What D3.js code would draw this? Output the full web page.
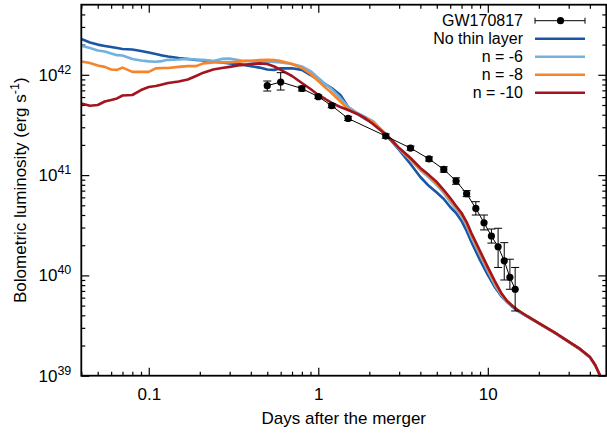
<!DOCTYPE html>
<html>
<head>
<meta charset="utf-8">
<script src="https://cdn.jsdelivr.net/npm/d3@7"></script>
<style>
body { margin: 0; background: #fff; }
svg { display: block; font-family: "Liberation Sans", Arial, sans-serif; }
</style>
</head>
<body>
<div id="graph"></div>
<script>
// model time grid (days after merger)
var days = [0.04, 0.045, 0.05, 0.055, 0.06, 0.065, 0.07, 0.08, 0.09, 0.1,
  0.11, 0.12, 0.13, 0.15, 0.17, 0.19, 0.21, 0.24, 0.27, 0.3,
  0.35, 0.4, 0.45, 0.5, 0.55, 0.6, 0.7, 0.8, 0.9, 1.0,
  1.1, 1.2, 1.35, 1.5, 1.7, 1.9, 2.1, 2.4, 2.7, 3.0,
  3.5, 4.0, 4.5, 5.0, 5.5, 6.0, 6.5, 7.0, 7.5, 8.0,
  9, 10, 11, 12, 13, 14, 15,
  17, 20, 25, 30, 35, 40, 43, 46];

// bolometric luminosity, erg/s
var lumNoLayer = [2.28e42, 2.10e42, 2.00e42, 1.94e42, 1.89e42, 1.85e42, 1.81e42, 1.79e42, 1.73e42, 1.67e42,
  1.61e42, 1.56e42, 1.52e42, 1.47e42, 1.44e42, 1.41e42, 1.39e42, 1.36e42, 1.33e42, 1.30e42,
  1.27e42, 1.22e42, 1.18e42, 1.13e42, 1.12e42, 1.16e42, 1.16e42, 1.12e42, 9.95e41, 8.87e41,
  8.09e41, 7.38e41, 6.29e41, 4.78e41, 4.07e41, 3.62e41, 3.31e41, 2.69e41, 2.19e41, 1.78e41,
  1.29e41, 9.57e40, 7.78e40, 6.71e40, 5.78e40, 4.81e40, 4.19e40, 3.49e40, 2.77e40, 2.15e40,
  1.42e40, 1.01e40, 7.66e39, 6.23e39, 5.43e39, 4.84e39, 4.42e39,
  3.90e39, 3.32e39, 2.65e39, 2.17e39, 1.83e39, 1.53e39, 1.27e39, 1.00e39];

var lumN6 = [1.95e42, 1.85e42, 1.75e42, 1.71e42, 1.63e42, 1.57e42, 1.56e42, 1.44e42, 1.39e42, 1.36e42,
  1.35e42, 1.37e42, 1.41e42, 1.42e42, 1.44e42, 1.42e42, 1.41e42, 1.37e42, 1.44e42, 1.45e42,
  1.39e42, 1.37e42, 1.34e42, 1.36e42, 1.34e42, 1.33e42, 1.28e42, 1.21e42, 1.09e42, 9.29e41,
  8.09e41, 7.21e41, 5.87e41, 4.78e41, 4.16e41, 3.79e41, 3.46e41, 2.75e41, 2.26e41, 1.82e41,
  1.42e41, 1.12e41, 9.46e40, 7.96e40, 6.63e40, 5.40e40, 4.59e40, 3.91e40, 3.15e40, 2.41e40,
  1.60e40, 1.11e40, 8.02e39, 6.38e39, 5.43e39, 4.90e39, 4.47e39,
  3.93e39, 3.34e39, 2.66e39, 2.18e39, 1.84e39, 1.54e39, 1.28e39, 1.00e39];

var lumN8 = [1.36e42, 1.31e42, 1.24e42, 1.20e42, 1.13e42, 1.12e42, 1.18e42, 1.07e42, 1.07e42, 1.07e42,
  1.16e42, 1.17e42, 1.17e42, 1.20e42, 1.22e42, 1.22e42, 1.30e42, 1.33e42, 1.33e42, 1.33e42,
  1.36e42, 1.38e42, 1.40e42, 1.41e42, 1.40e42, 1.37e42, 1.28e42, 1.17e42, 1.02e42, 8.67e41,
  7.47e41, 6.59e41, 5.42e41, 4.56e41, 4.07e41, 3.71e41, 3.38e41, 2.75e41, 2.26e41, 1.84e41,
  1.45e41, 1.15e41, 9.68e40, 8.15e40, 6.86e40, 5.65e40, 4.81e40, 4.05e40, 3.29e40, 2.53e40,
  1.67e40, 1.16e40, 8.40e39, 6.53e39, 5.49e39, 4.95e39, 4.52e39,
  3.94e39, 3.35e39, 2.67e39, 2.19e39, 1.85e39, 1.54e39, 1.28e39, 1.00e39];

var lumN10 = [5.18e41, 4.92e41, 5.00e41, 5.42e41, 5.61e41, 5.81e41, 6.22e41, 6.29e41, 7.05e41, 7.56e41,
  7.73e41, 8.00e41, 8.28e41, 8.58e41, 8.98e41, 9.73e41, 1.05e42, 1.13e42, 1.17e42, 1.20e42,
  1.25e42, 1.28e42, 1.30e42, 1.28e42, 1.21e42, 1.12e42, 9.73e41, 8.28e41, 7.21e41, 6.29e41,
  5.74e41, 5.24e41, 4.78e41, 4.46e41, 4.07e41, 3.67e41, 3.23e41, 2.69e41, 2.24e41, 1.86e41,
  1.48e41, 1.18e41, 1.00e41, 8.53e40, 7.10e40, 5.91e40, 4.92e40, 4.19e40, 3.40e40, 2.65e40,
  1.75e40, 1.21e40, 8.79e39, 6.68e39, 5.56e39, 4.95e39, 4.52e39,
  3.94e39, 3.35e39, 2.67e39, 2.19e39, 1.85e39, 1.54e39, 1.28e39, 1.00e39];

// GW170817 bolometric light curve
var obsDays = [0.5, 0.6, 0.8, 1.0, 1.2, 1.5, 2.5, 3.5, 4.5, 5.5, 6.5, 7.5, 8.5, 9.5, 10.5, 11.5, 12.5, 13.5, 14.5];
var obsLum = [7.79e41, 8.48e41, 7.30e41, 6.05e41, 4.92e41, 3.67e41, 2.45e41, 1.86e41, 1.45e41, 1.14e41,
  8.73e40, 6.53e40, 4.65e40, 3.35e40, 2.47e40, 1.93e40, 1.40e40, 9.57e39, 7.28e39];
var obsLow = [6.89e41, 7.05e41, 6.90e41, 5.80e41, 4.70e41, 3.50e41, 2.33e41, 1.77e41, 1.38e41, 1.07e41,
  8.10e40, 6.10e40, 4.00e40, 2.84e40, 2.10e40, 1.20e40, 9.00e39, 7.27e39, 4.42e39];
var obsHigh = [8.67e41, 1.05e42, 7.70e41, 6.30e41, 5.15e41, 3.85e41, 2.57e41, 1.95e41, 1.52e41, 1.21e41,
  9.40e40, 7.00e40, 5.43e40, 4.00e40, 2.90e40, 2.95e40, 2.12e40, 1.45e40, 1.20e40];

var seriesNames = ["No thin layer", "n = -6", "n = -8", "n = -10"];
var seriesColors = ["#1b56a4", "#72b1de", "#f5842b", "#a3141f"];

var xMajor = [0.1, 1, 10];
var xMinor = [0.04, 0.05, 0.06, 0.07, 0.08, 0.09, 0.2, 0.3, 0.4, 0.5, 0.6, 0.7, 0.8, 0.9,
  2, 3, 4, 5, 6, 7, 8, 9, 20, 30, 40];
var yMajor = [1e39, 1e40, 1e41, 1e42];
var yMinor = [];
[1e39, 1e40, 1e41, 1e42].forEach(function(p) {
  [2, 3, 4, 5, 6, 7, 8, 9].forEach(function(k) {
    if (k * p < 5e42) yMinor.push(k * p);
  });
});

var w = 607, h = 434;
var m = {top: 4.7, right: 0.7, bottom: 58.3, left: 81.3};

var x = d3.scaleLog().domain([0.04, 50]).range([m.left, w - m.right]);
var y = d3.scaleLog().domain([1e39, 5e42]).range([h - m.bottom, m.top]);

var svg = d3.select("#graph").append("svg")
  .attr("width", w)
  .attr("height", h);

svg.append("defs").append("clipPath")
  .attr("id", "clip")
  .append("rect")
  .attr("x", m.left)
  .attr("y", m.top)
  .attr("width", w - m.left - m.right)
  .attr("height", h - m.top - m.bottom);

// axes: ticks point inward on all four sides
function tidy(g) {
  g.select(".domain").remove();
  g.selectAll(".tick line").attr("stroke", "#000").attr("stroke-width", 1.2);
  g.selectAll("text").attr("font-size", 17).attr("fill", "#000");
}

svg.append("g")
  .attr("transform", "translate(0," + (h - m.bottom) + ")")
  .call(d3.axisBottom(x).tickValues(xMajor).tickFormat(function(d) { return d; })
    .tickSizeInner(-8).tickSizeOuter(0).tickPadding(12))
  .call(tidy);
svg.append("g")
  .attr("transform", "translate(0," + (h - m.bottom) + ")")
  .call(d3.axisBottom(x).tickValues(xMinor).tickFormat("").tickSizeInner(-4).tickSizeOuter(0))
  .call(tidy);
svg.append("g")
  .attr("transform", "translate(0," + m.top + ")")
  .call(d3.axisTop(x).tickValues(xMajor).tickFormat("").tickSizeInner(-8).tickSizeOuter(0))
  .call(tidy);
svg.append("g")
  .attr("transform", "translate(0," + m.top + ")")
  .call(d3.axisTop(x).tickValues(xMinor).tickFormat("").tickSizeInner(-4).tickSizeOuter(0))
  .call(tidy);

var yAxisLeft = svg.append("g")
  .attr("transform", "translate(" + m.left + ",0)")
  .call(d3.axisLeft(y).tickValues(yMajor).tickFormat("").tickSizeInner(-8).tickSizeOuter(0).tickPadding(10))
  .call(tidy);
yAxisLeft.selectAll(".tick text")
  .each(function(d) {
    var t = d3.select(this);
    t.append("tspan").text("10");
    t.append("tspan").attr("dy", -7).attr("font-size", 12.5).text(Math.round(Math.log10(d)));
  });
svg.append("g")
  .attr("transform", "translate(" + m.left + ",0)")
  .call(d3.axisLeft(y).tickValues(yMinor).tickFormat("").tickSizeInner(-4).tickSizeOuter(0))
  .call(tidy);
svg.append("g")
  .attr("transform", "translate(" + (w - m.right) + ",0)")
  .call(d3.axisRight(y).tickValues(yMajor).tickFormat("").tickSizeInner(-8).tickSizeOuter(0))
  .call(tidy);
svg.append("g")
  .attr("transform", "translate(" + (w - m.right) + ",0)")
  .call(d3.axisRight(y).tickValues(yMinor).tickFormat("").tickSizeInner(-4).tickSizeOuter(0))
  .call(tidy);

// model curves
var line = d3.line()
  .x(function(d) { return x(d[0]); })
  .y(function(d) { return y(d[1]); });

var curves = svg.append("g").attr("clip-path", "url(#clip)");
[lumNoLayer, lumN6, lumN8, lumN10].forEach(function(lum, i) {
  curves.append("path")
    .attr("d", line(d3.zip(days, lum)))
    .attr("fill", "none")
    .attr("stroke", seriesColors[i])
    .attr("stroke-width", 2.6)
    .attr("stroke-linejoin", "round");
});

// observed points with error bars
var obs = d3.zip(obsDays, obsLum, obsLow, obsHigh);
var pts = svg.append("g");
pts.append("path")
  .attr("d", line(obs))
  .attr("fill", "none")
  .attr("stroke", "#000")
  .attr("stroke-width", 1);
var bars = pts.selectAll(".bar").data(obs).enter().append("g").attr("class", "bar");
bars.append("line")
  .attr("x1", function(d) { return x(d[0]); })
  .attr("x2", function(d) { return x(d[0]); })
  .attr("y1", function(d) { return y(d[2]); })
  .attr("y2", function(d) { return y(d[3]); });
bars.append("line")
  .attr("x1", function(d) { return x(d[0]) - 4; })
  .attr("x2", function(d) { return x(d[0]) + 4; })
  .attr("y1", function(d) { return y(d[2]); })
  .attr("y2", function(d) { return y(d[2]); });
bars.append("line")
  .attr("x1", function(d) { return x(d[0]) - 4; })
  .attr("x2", function(d) { return x(d[0]) + 4; })
  .attr("y1", function(d) { return y(d[3]); })
  .attr("y2", function(d) { return y(d[3]); });
bars.selectAll("line").attr("stroke", "#000").attr("stroke-width", 1);
pts.selectAll("circle").data(obs).enter().append("circle")
  .attr("cx", function(d) { return x(d[0]); })
  .attr("cy", function(d) { return y(d[1]); })
  .attr("r", 3.6)
  .attr("fill", "#000");

// frame
svg.append("rect")
  .attr("x", m.left)
  .attr("y", m.top)
  .attr("width", w - m.left - m.right)
  .attr("height", h - m.top - m.bottom)
  .attr("fill", "none")
  .attr("stroke", "#000")
  .attr("stroke-width", 1.8);

// legend
var lx = 523, ly = 20.7, ld = 18;
var legend = svg.append("g").attr("font-size", 16);
var labels = ["GW170817"].concat(seriesNames);
labels.forEach(function(s, i) {
  legend.append("text")
    .attr("x", lx)
    .attr("y", ly + i * ld)
    .attr("dy", "0.35em")
    .attr("text-anchor", "end")
    .text(s);
});
legend.append("line").attr("x1", 535).attr("x2", 585).attr("y1", ly).attr("y2", ly).attr("stroke", "#000");
legend.append("line").attr("x1", 535).attr("x2", 535).attr("y1", ly - 3).attr("y2", ly + 3).attr("stroke", "#000");
legend.append("line").attr("x1", 585).attr("x2", 585).attr("y1", ly - 3).attr("y2", ly + 3).attr("stroke", "#000");
legend.append("circle").attr("cx", 560.5).attr("cy", ly).attr("r", 3.6).attr("fill", "#000");
seriesColors.forEach(function(c, i) {
  legend.append("line")
    .attr("x1", 535).attr("x2", 585)
    .attr("y1", ly + (i + 1) * ld).attr("y2", ly + (i + 1) * ld)
    .attr("stroke", c)
    .attr("stroke-width", 2.6);
});

// axis titles
svg.append("text")
  .attr("x", (m.left + w - m.right) / 2)
  .attr("y", 424)
  .attr("text-anchor", "middle")
  .attr("font-size", 17)
  .text("Days after the merger");

var yt = svg.append("text")
  .attr("transform", "translate(26," + ((m.top + h - m.bottom) / 2) + ") rotate(-90)")
  .attr("text-anchor", "middle")
  .attr("font-size", 17);
yt.append("tspan").text("Bolometric luminosity (erg s");
yt.append("tspan").attr("dy", -7).attr("font-size", 12.5).text("-1");
yt.append("tspan").attr("dy", 7).text(")");
</script>
</body>
</html>
